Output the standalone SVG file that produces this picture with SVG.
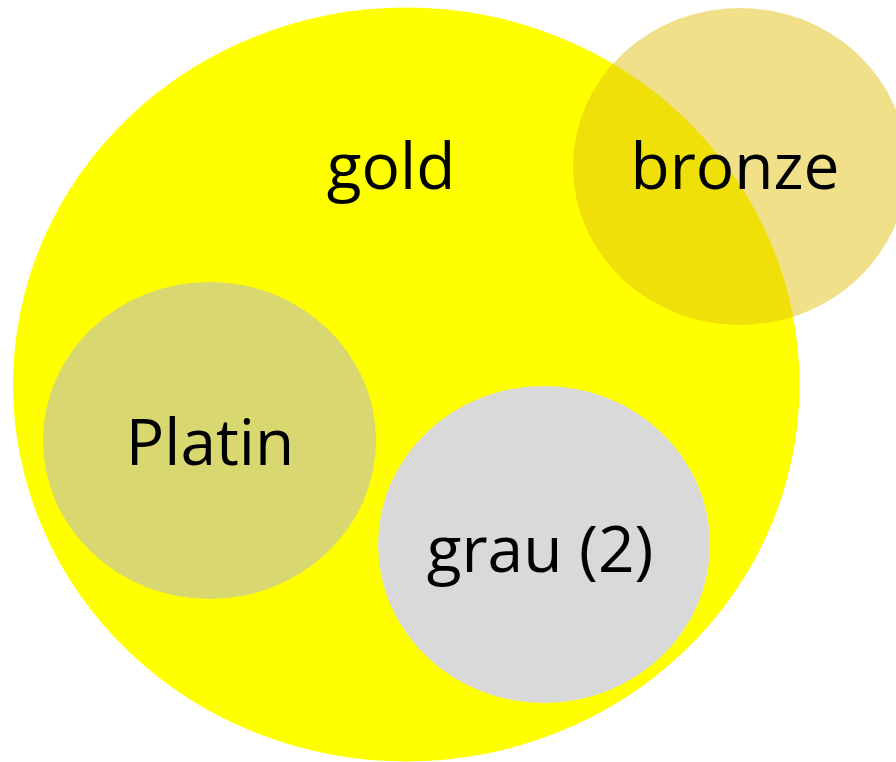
<svg xmlns="http://www.w3.org/2000/svg" width="896" height="762" viewBox="0 0 896 762">
<style>
text{font-family:"Open Sans","Noto Sans","DejaVu Sans",sans-serif;font-size:64px;fill:#000;text-anchor:middle}
</style>
<rect width="896" height="762" fill="#fff"/>
<g id="gold">
<ellipse cx="406.3" cy="384.5" rx="393.3" ry="377" fill="#ffff00"/>
<text x="391" y="189">gold</text>
</g>
<g id="bronze">
<ellipse cx="740" cy="166.5" rx="167" ry="158.5" fill="#e1c114" fill-opacity="0.5"/>
<text x="735" y="189">bronze</text>
</g>
<g id="platin">
<ellipse cx="209.5" cy="440.5" rx="166.5" ry="158.5" fill="#d8d770"/>
<text x="210" y="465">Platin</text>
</g>
<g id="grau">
<ellipse cx="544" cy="544.5" rx="166" ry="158.5" fill="#d9d9d9"/>
<text x="540" y="571.5">grau (2)</text>
</g>
<g id="connectors"/>
</svg>
